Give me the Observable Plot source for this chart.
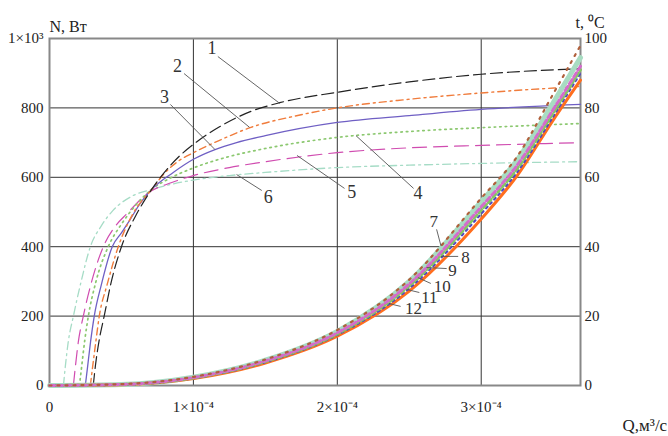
<!DOCTYPE html>
<html><head><meta charset="utf-8">
<script src="https://cdn.jsdelivr.net/npm/d3@7"></script>
<script src="https://cdn.jsdelivr.net/npm/@observablehq/plot@0.6"></script>
<style>body{margin:0;background:#fff}#chart svg text{font-family:"Liberation Serif","Times New Roman",serif}</style>
</head><body><div id="chart"></div>
<script>
// Q in units of 1e-4 m3/s; N in W (left axis); t in °C (right axis)
const q1 = [0.304,0.32,0.345,0.38,0.43,0.50,0.60,0.71,0.80,0.90,1.0,1.2,1.4,1.6,2.0,2.5,3.0,3.69];
const n1 = [0,60,130,200,300,400,490,565,615,660,695,750,790,815,845,875,897,913];
const q2 = [0.284,0.30,0.32,0.346,0.40,0.478,0.58,0.71,0.80,0.90,1.0,1.2,1.4,1.7,2.0,2.5,3.0,3.69];
const n2 = [0,55,120,200,290,400,495,565,612,648,671,710,744,776,800,825,843,862];
const q3 = [0.249,0.265,0.285,0.311,0.36,0.436,0.50,0.56,0.63,0.71,0.86,1.0,1.15,1.3,1.5,2.0,2.5,3.0,3.69];
const n3 = [0,55,125,200,290,400,440,478,525,565,614,652,680,700,720,758,778,796,810];
const q4 = [0.208,0.225,0.245,0.27,0.32,0.408,0.50,0.60,0.71,0.85,1.0,1.25,1.5,2.0,2.5,3.0,3.69];
const n4 = [0,60,130,200,295,400,465,520,565,600,627,660,683,715,732,743,755];
const q5 = [0.166,0.18,0.20,0.235,0.29,0.374,0.45,0.54,0.69,0.85,1.0,1.25,1.5,2.0,2.5,3.0,3.69];
const n5 = [0,55,125,200,295,400,455,496,556,585,605,628,645,671,685,692,700];
const q6 = [0.097,0.11,0.13,0.166,0.22,0.284,0.36,0.44,0.57,0.71,0.85,1.0,1.25,1.5,2.0,2.5,3.0,3.69];
const n6 = [0,55,125,200,300,400,460,504,545,565,580,592,605,614,628,635,640,645];

const qT  = [0,0.5,1.0,1.5,2.0,2.5,3.0,3.25,3.5,3.69];
const t7  = [0,0.4,2.5,7.5,16.0,30.5,54.0,66.0,84.0,98.0];
const t8  = [0,0.3,2.4,7.3,15.6,30.0,53.0,65.0,81.5,94.5];
const t9  = [0,0.3,2.3,7.1,15.2,29.3,51.5,63.5,79.5,92.0];
const t10 = [0,0.3,2.2,6.9,14.9,28.7,50.5,62.5,78.5,91.0];
const t11 = [0,0.2,2.1,6.7,14.6,28.0,49.5,61.5,77.5,90.0];
const t12 = [0,0.2,2.0,6.5,14.2,27.2,48.0,60.5,76.5,88.0];

const xTicks = [0,1,2,3];
const xTickLabels = ["0","1×10⁻⁴","2×10⁻⁴","3×10⁻⁴"];
const yTicks = [0,200,400,600,800,1000];
const yTickLabels = ["0","200","400","600","800","1×10³"];
const tTicks = [0,20,40,60,80,100];

// curve number annotations: label position and pointer ends (data units)
const labN = ["1","2","3","4","5","6"];
const labNq = [1.13,0.89,0.80,2.56,2.10,1.52];
const labNn = [971,919,830,553,556,542];
const ptrNq1 = [1.17,0.935,0.84,2.53,2.05,1.475];
const ptrNn1 = [948,899,810,568,568,562];
const ptrNq2 = [1.60,1.39,1.15,2.13,1.72,1.30];
const ptrNn2 = [813,744,680,720,663,608];

const labT = ["7","8","9","10","11","12"];
const labTq = [2.67,2.89,2.80,2.73,2.64,2.53];
const labTt = [47.3,36.9,33.1,28.5,25.4,22.2];
const ptrTq1 = [2.69,2.84,2.76,2.65,2.57,2.44];
const ptrTt1 = [45.0,37.2,33.7,29.4,26.8,22.8];
const ptrTq2 = [2.72,2.72,2.62,2.56,2.48,2.36];
const ptrTt2 = [40.3,37.2,34.0,31.1,27.7,23.6];

const ser = (q, v, k = 1) => q.map((d, i) => ({q: d, v: v[i] * k}));
const serif = "Liberation Serif, Times New Roman, serif";
const line = (q, v, k, o) => Plot.line(ser(q, v, k), {x: "q", y: "v", curve: "monotone-x", ...o});

const annN = labN.map((s, i) => ({s, x: labNq[i], y: labNn[i], x1: ptrNq1[i], y1: ptrNn1[i], x2: ptrNq2[i], y2: ptrNn2[i]}));
const annT = labT.map((s, i) => ({s, x: labTq[i], y: labTt[i] * 10, x1: ptrTq1[i], y1: ptrTt1[i] * 10, x2: ptrTq2[i], y2: ptrTt2[i] * 10}));

const chart = Plot.plot({
  width: 668, height: 436,
  marginLeft: 49, marginRight: 88, marginTop: 38, marginBottom: 51,
  x: {domain: [0, 3.69]},
  y: {domain: [0, 1000]},
  style: {fontFamily: serif, fontSize: "14px", background: "#fff", color: "#222", overflow: "hidden"},
  marks: [
    Plot.gridX(xTicks.slice(1), {stroke: "#333", strokeOpacity: 1, strokeWidth: 1}),
    Plot.gridY(yTicks.slice(1, 5), {stroke: "#333", strokeOpacity: 1, strokeWidth: 1}),
    Plot.frame({stroke: "#888", strokeWidth: 2}),
    Plot.axisX(xTicks, {tickSize: 0, tickPadding: 16, tickFormat: d => xTickLabels[xTicks.indexOf(d)], label: null, fontSize: 15}),
    Plot.axisY(yTicks, {anchor: "left", tickSize: 0, tickPadding: 6, tickFormat: d => yTickLabels[yTicks.indexOf(d)], label: null, fontSize: 15}),
    Plot.axisY(tTicks.map(d => d * 10), {anchor: "right", tickSize: 0, tickPadding: 4, tickFormat: d => String(d / 10), label: null, fontSize: 15}),
    // power curves N(Q)
    line(q6, n6, 1, {stroke: "#a6dcc6", strokeWidth: 1.3, strokeDasharray: "8,4,2,4"}),
    line(q5, n5, 1, {stroke: "#d04cb0", strokeWidth: 1.2, strokeDasharray: "14,7"}),
    line(q4, n4, 1, {stroke: "#8cc870", strokeWidth: 1.7, strokeDasharray: "1.5,4"}),
    line(q3, n3, 1, {stroke: "#6f5fc4", strokeWidth: 1.3}),
    line(q2, n2, 1, {stroke: "#f07c3c", strokeWidth: 1.4, strokeDasharray: "7,4,2,4"}),
    line(q1, n1, 1, {stroke: "#222", strokeWidth: 1.2, strokeDasharray: "12,5"}),
    // temperature curves t(Q), right axis (scaled ×10 onto y)
    line(qT, t8, 10, {stroke: "#a8dcc2", strokeWidth: 5}),
    line(qT, t12, 10, {stroke: "#ff6e1e", strokeWidth: 3}),
    line(qT, t11, 10, {stroke: "#5048c0", strokeWidth: 2.2, strokeDasharray: "2,4"}),
    line(qT, t10, 10, {stroke: "#84c860", strokeWidth: 3, strokeDasharray: "4,3"}),
    line(qT, t9, 10, {stroke: "#d46ccc", strokeWidth: 3, strokeDasharray: "5,3"}),
    line(qT, t7, 10, {stroke: "#b0603c", strokeWidth: 2.2, strokeDasharray: "2,6"}),
    // annotations
    Plot.link(annN, {x1: "x1", y1: "y1", x2: "x2", y2: "y2", stroke: "#555", strokeWidth: 0.9}),
    Plot.link(annT, {x1: "x1", y1: "y1", x2: "x2", y2: "y2", stroke: "#555", strokeWidth: 0.9}),
    Plot.text(annN, {x: "x", y: "y", text: "s", fontSize: 18, fill: "#333"}),
    Plot.text(annT, {x: "x", y: "y", text: "s", fontSize: 17, fill: "#333"}),
    // axis titles
    Plot.text(["N, Вт"], {frameAnchor: "top-left", dy: -18, textAnchor: "start", fontSize: 16, fill: "#222"}),
    Plot.text(["t, ⁰C"], {frameAnchor: "top-right", dx: -5, dy: -22, textAnchor: "start", fontSize: 16, fill: "#222"}),
    Plot.text(["Q,м³/с"], {frameAnchor: "bottom-right", dx: 42, dy: 45, textAnchor: "start", fontSize: 17, fill: "#222"})
  ]
});
document.getElementById("chart").appendChild(chart);
</script>
</body></html>
